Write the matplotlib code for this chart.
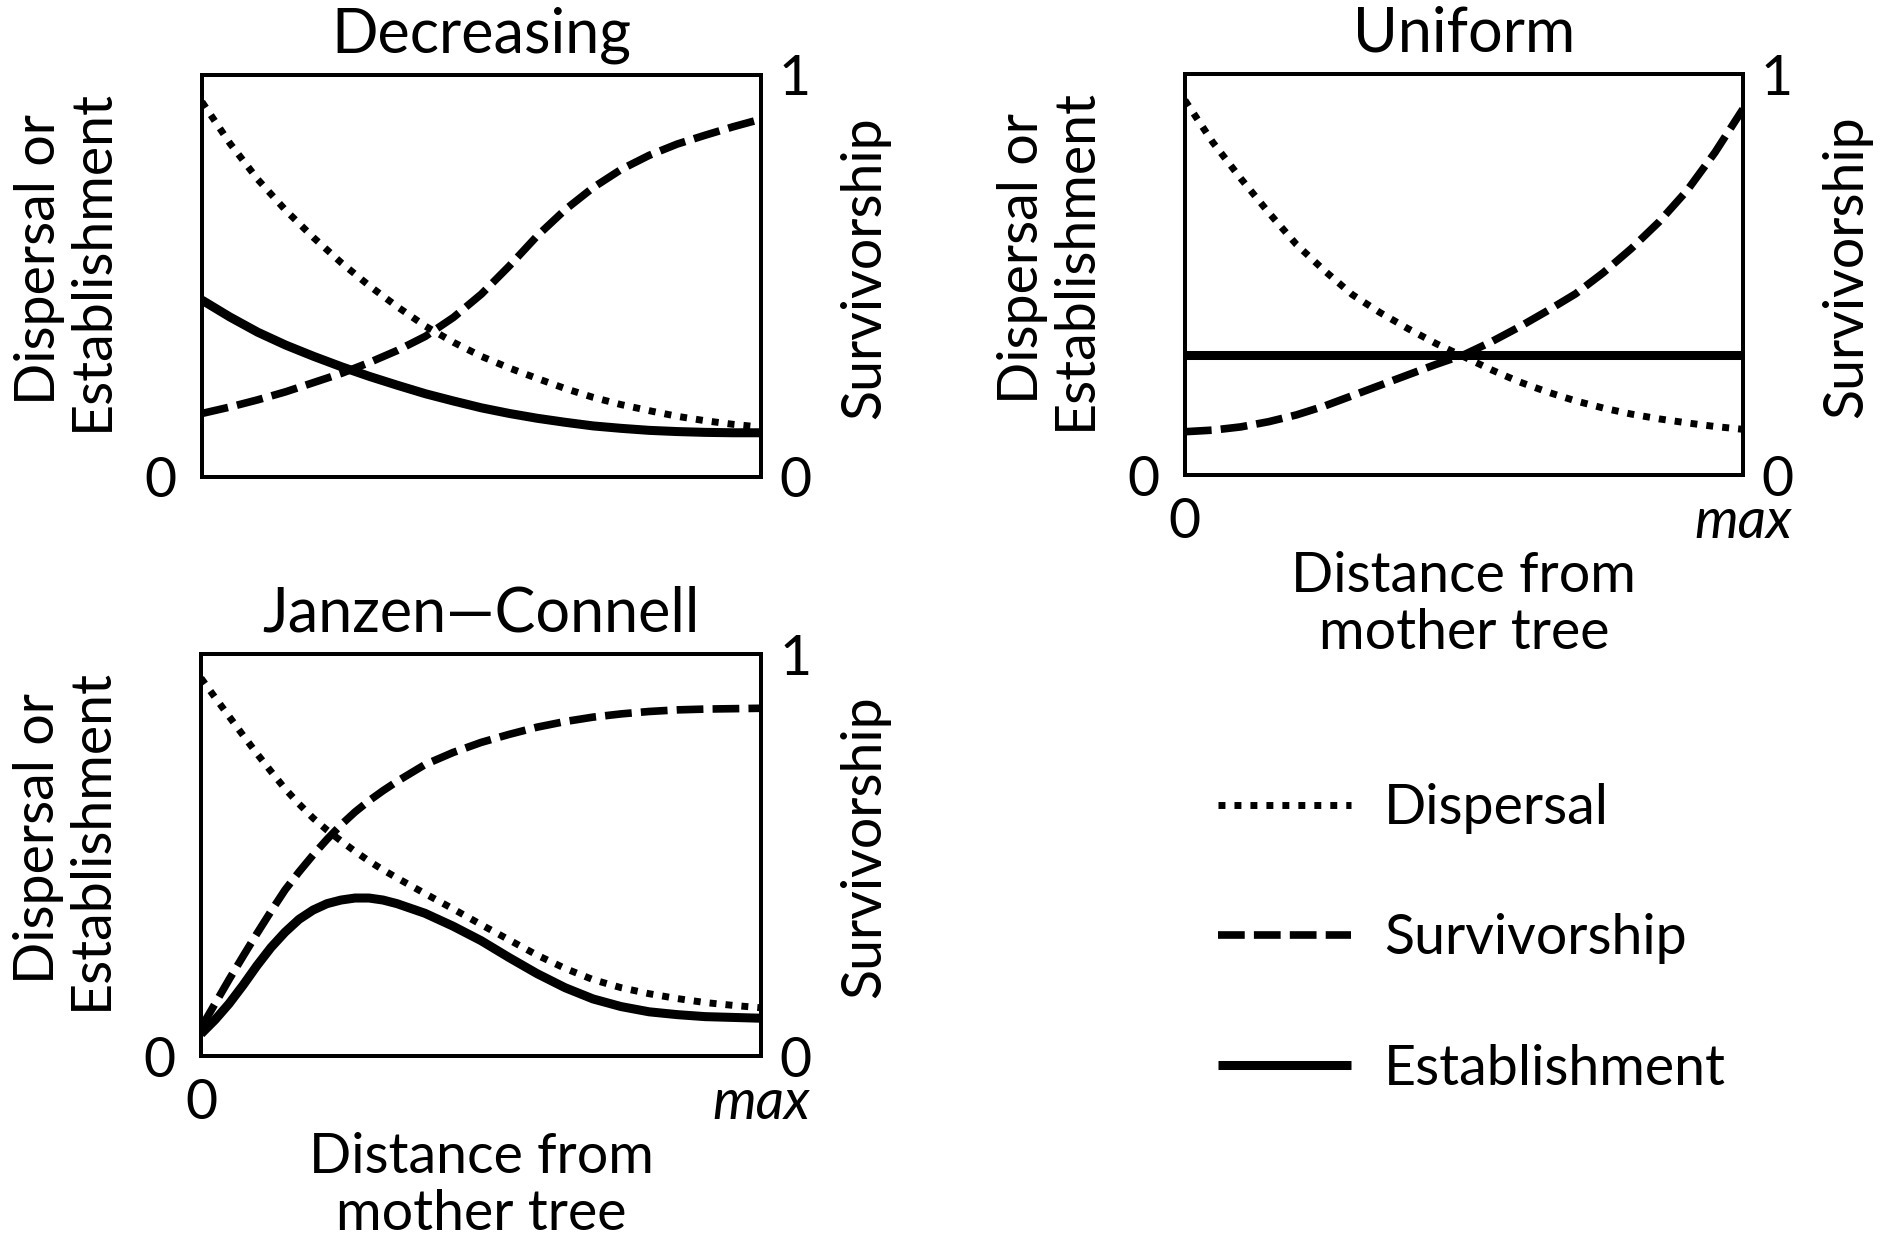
import matplotlib
matplotlib.use('Agg')
import matplotlib.pyplot as plt

plt.rcParams['font.family'] = ['Lato', 'DejaVu Sans']
plt.rcParams['font.size'] = 40

# distance from the mother tree (0 = at the tree, 1 = max)
dist = [0, .05, .1, .15, .2, .25, .3, .35, .4, .45, .5,
        .55, .6, .65, .7, .75, .8, .85, .9, .95, 1]

dec_dispersal = [.933, .83, .74, .663, .595, .532, .475, .423, .375, .335, .30,
                 .271, .245, .22, .198, .18, .165, .151, .14, .131, .124]
dec_survivorship = [.158, .174, .192, .212, .235, .258, .285, .315, .35, .397, .455,
                    .525, .60, .665, .72, .765, .80, .828, .85, .871, .89]
dec_establishment = [.44, .398, .36, .328, .30, .274, .25, .228, .207, .189, .172,
                     .158, .146, .136, .127, .121, .116, .113, .111, .11, .11]

uni_dispersal = [.935, .83, .74, .655, .575, .51, .45, .405, .365, .328, .295,
                 .262, .232, .207, .185, .167, .152, .14, .13, .121, .114]
uni_survivorship = [.108, .112, .12, .133, .15, .172, .198, .224, .25, .276, .30,
                    .333, .37, .41, .452, .505, .565, .632, .71, .805, .913]
uni_establishment = [.30] * len(dist)

# Janzen-Connell is read more finely near the tree, where the curves bend most
jc_dist = [0, .025, .05, .075, .1, .125, .15, .175, .2, .225, .25, .275, .3, .325, .35,
           .4, .45, .5, .55, .6, .65, .7, .75, .8, .85, .9, .95, 1]
jc_dispersal = [.94, .892, .845, .798, .752, .708, .665, .627, .592, .562, .535, .509, .485,
                .463, .443, .404, .366, .327, .289, .251, .218, .19, .17, .155, .143, .133,
                .126, .12]
jc_survivorship = [.07, .13, .19, .248, .305, .36, .413, .458, .50, .539, .575, .607, .635,
                   .66, .683, .725, .755, .78, .80, .818, .832, .843, .851, .857, .861, .863,
                   .864, .865]
jc_establishment = [.055, .09, .13, .176, .225, .27, .308, .34, .363, .379, .388, .393, .393,
                    .388, .379, .355, .323, .287, .245, .205, .17, .142, .123, .11, .103, .098,
                    .096, .094]

series_labels = ['Dispersal', 'Survivorship', 'Establishment']
x_ticklabels = ['0', 'max']

fig = plt.figure(figsize=(18.82, 12.37), dpi=100)


def make_panel(rect, title, x, disp, surv, est, show_x):
    ax = fig.add_axes(rect)
    l1, = ax.plot(x, disp, color='black', lw=5, dashes=(1.0, 1.3))
    l2, = ax.plot(x, surv, color='black', lw=5.5, dashes=(3.5, 1.2))
    l3, = ax.plot(x, est, color='black', lw=6.5, solid_capstyle='butt')
    ax.set_xlim(0, 1)
    ax.set_ylim(0, 1)
    for s in ax.spines.values():
        s.set_linewidth(2.8)
    ax.set_title(title, pad=16, fontsize=44)
    ax.set_yticks([0])
    ax.set_yticklabels(['0'])
    ax.tick_params(axis='y', length=0, pad=18)
    if show_x:
        ax.set_xticks([0, 1])
        labs = ax.set_xticklabels(x_ticklabels)
        labs[1].set_fontstyle('italic')
        ax.tick_params(axis='x', length=0, pad=16)
        ax.set_xlabel('Distance from\nmother tree', linespacing=1.15, labelpad=2)
    else:
        ax.set_xticks([])
    ax.set_ylabel('Dispersal or\nEstablishment', linespacing=1.05)
    ax.yaxis.set_label_coords(-0.15, 0.54)

    ax2 = ax.twinx()
    ax2.set_ylim(0, 1)
    ax2.set_yticks([0, 1])
    ax2.set_yticklabels(['0', '1'])
    ax2.tick_params(axis='y', length=0, pad=13)
    for s in ax2.spines.values():
        s.set_linewidth(2.8)
    ax2.set_ylabel('Survivorship')
    ax2.yaxis.set_label_coords(1.14, 0.52)
    return [l1, l2, l3]


handles = make_panel([0.1073, 0.6144, 0.297, 0.325], 'Decreasing',
                     dist, dec_dispersal, dec_survivorship, dec_establishment, False)
make_panel([0.6296, 0.616, 0.2965, 0.324], 'Uniform',
           dist, uni_dispersal, uni_survivorship, uni_establishment, True)
make_panel([0.1068, 0.1463, 0.2976, 0.325], 'Janzen\u2014Connell',
           jc_dist, jc_dispersal, jc_survivorship, jc_establishment, True)

fig.legend(handles, series_labels, loc='upper left', bbox_to_anchor=(0.647, 0.367),
           frameon=False, handlelength=2.4, handletextpad=0.6, labelspacing=1.43,
           borderpad=0, borderaxespad=0)

fig.savefig('out.png', dpi=100)
